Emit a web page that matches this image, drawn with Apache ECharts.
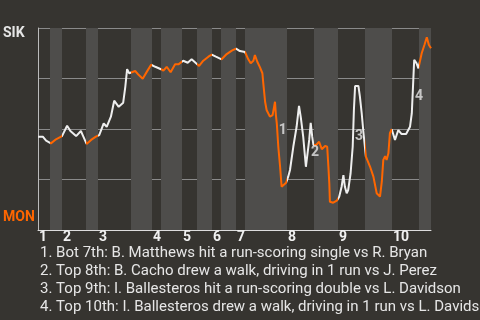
<!DOCTYPE html>
<html>
<head>
<meta charset="utf-8">
<script src="https://cdn.jsdelivr.net/npm/echarts@6/dist/echarts.min.js"></script>
<style>
html,body{margin:0;padding:0;background:#363430;}
#c{width:480px;height:320px;}
</style>
</head>
<body>
<div id="c"></div>
<script>
// Half-inning boundaries (play index units)
var halfStarts = [0,4,8,16,20,31,38,41,48,53,58,61,66,69,83,92,100,109,118,127,131];
// Inning tick positions and labels
var inningTicks = [0,8,20,38,48,58,66,83,100,118];
var inningLabels = ['1','2','3','4','5','6','7','8','9','10'];
// Win probability (0 = MON, 100 = SIK)
var playX = [0,1.6,2.7,4.3,6,8,9.7,10.8,12.7,14.3,14.9,16.2,17.7,19.3,20.4,21.9,22.9,24.3,25.4,26.9,28.4,29.1,29.7,30.4,31,32.4,33.6,34.9,36.3,37.7,39.1,41,41.8,42.9,44.2,45.7,46.8,48.4,49.9,51.2,52.7,53.7,55.1,56.8,57.9,59.3,61.2,62.9,64.6,66,67.3,69,70.1,70.9,71.8,72.3,73.1,74,74.8,75.1,75.7,76.2,77.3,78.2,79,79.3,79.6,80.1,80.7,81.2,81.8,82.7,83.4,84,85.1,86.2,87,87.6,88.4,89.3,89.8,90.4,90.9,91.4,91.8,92.7,93.7,94.6,95.7,96.4,96.8,97.1,97.3,98.4,99.6,100.4,101.2,101.8,102.3,102.9,103.4,104.2,104.9,105.3,105.7,106.8,107.3,107.9,108.4,109.3,110.7,111.8,112.9,114,114.6,115.1,115.7,116.2,116.8,117.3,117.9,119,120.1,121.2,122.7,124,124.6,125.1,125.4,126.2,126.8,127.9,128.8,129.6,130.3,131];
var winProb = [46.2,46.2,44.2,42.9,44.9,46.5,51.6,49,46.5,49,47,42.6,44.6,46.2,47,52.8,51.1,56.1,64,61,63,70.9,79.6,77.6,76.7,78.7,76.7,74.9,78.4,81.8,80.8,79.6,78.9,80.8,78.1,82,82,83.8,82.8,84.5,82.5,81.2,83.8,85.8,86.8,85.8,84.5,87.1,88.8,89.8,88.6,88.1,84.5,82.5,83.8,86.6,83.3,80.5,77.6,72.6,63.5,59.4,56.1,56.9,63.5,56.9,52.8,41.2,31.3,21.4,20.9,23.4,26.4,29.7,41.2,51.1,61.4,55.8,46.2,31.3,31,44.6,53.1,46.2,42.1,42.1,43.7,40,41.6,41.2,31.3,23.1,14,13.5,14.5,16.5,21.4,27.2,21.4,18.2,19.8,28.1,41.2,59.4,71.3,71.3,66,57.8,49.5,36.3,31.3,26.4,18.2,16.5,23.9,34.7,36.6,34.7,38,47.9,49.9,44.6,49.5,47.5,47.5,51.1,57.8,74.3,84.2,82.5,80,87.5,91.6,95.4,91.6,90];
// Key play markers
var eventX = [81.6,92.3,107,127];
var eventY = [49.5,38.6,46.5,66];
var eventLabels = ['1','2','3','4'];
var eventTexts = [
  '1. Bot 7th: B. Matthews hit a run-scoring single vs R. Bryan',
  '2. Top 8th: B. Cacho drew a walk, driving in 1 run vs J. Perez',
  '3. Top 9th: I. Ballesteros hit a run-scoring double vs L. Davidson',
  '4. Top 10th: I. Ballesteros drew a walk, driving in 1 run vs L. Davidson'
];
var teamTop = 'SIK', teamBottom = 'MON';

var WHITE = '#eeeeee', ORANGE = '#ff6600';
var lineData = playX.map(function(x,i){return [x, winProb[i]];});
var bands = [], pieces = [];
for (var i = 0; i < halfStarts.length - 1; i++) {
  var bottomHalf = (i % 2 === 1);
  pieces.push({gte: halfStarts[i], lt: (i === halfStarts.length-2 ? 1000 : halfStarts[i+1]), color: bottomHalf ? ORANGE : WHITE});
  if (bottomHalf) bands.push([{xAxis: halfStarts[i]}, {xAxis: halfStarts[i+1]}]);
}
var tickMap = {};
inningTicks.forEach(function(t,i){tickMap[t] = inningLabels[i];});

var graphics = [
  {type:'text', left:3, top:26, style:{text:teamTop, fill:'#e6e6e6', font:'bold 14px Roboto'}},
  {type:'text', left:3, top:210, style:{text:teamBottom, fill:ORANGE, font:'bold 14px Roboto'}}
];
eventTexts.forEach(function(t,i){
  graphics.push({type:'text', x:40, y:253 + i*18, style:{text:t, fill:'#e6e6e6', font:'15px Roboto', verticalAlign:'middle'}});
});

var chart = echarts.init(document.getElementById('c'), null, {renderer:'canvas'});
chart.setOption({
  backgroundColor:'#363430',
  animation:false,
  grid:{left:38, right:49, top:28, bottom:90, containLabel:false},
  xAxis:{type:'value', min:0, max:131,
    axisLine:{show:true, lineStyle:{color:'#dddddd', width:1}},
    axisTick:{show:false},
    splitLine:{show:false},
    axisLabel:{customValues:inningTicks, formatter:function(v){return tickMap[v] || '';},
      color:'#f0f0f0', fontFamily:'Roboto', fontWeight:'bold', fontSize:14, align:'left', padding:[0,0,0,1], margin:0}
  },
  yAxis:{type:'value', min:0, max:100, interval:25,
    axisLine:{show:true, lineStyle:{color:'#bbbbbb'}},
    axisTick:{show:false}, axisLabel:{show:false},
    splitLine:{show:true, lineStyle:{color:'#8a8a8a', width:1}}
  },
  visualMap:{type:'piecewise', show:false, dimension:0, seriesIndex:1, pieces:pieces},
  graphic:graphics,
  series:[
    {type:'line', data:[], z:1, silent:true,
      markArea:{silent:true, itemStyle:{color:'#4e4d4b'}, data:bands}},
    {type:'line', data:lineData, z:3, symbol:'none', lineStyle:{width:2}},
    {type:'scatter', z:4, symbolSize:0, silent:true,
      data:eventX.map(function(x,i){return [x, eventY[i], eventLabels[i]];}),
      label:{show:true, position:'inside', formatter:function(p){return p.value[2];},
        color:'#e6e6e6', fontFamily:'Roboto', fontWeight:'bold', fontSize:14}}
  ]
});
</script>
</body>
</html>
